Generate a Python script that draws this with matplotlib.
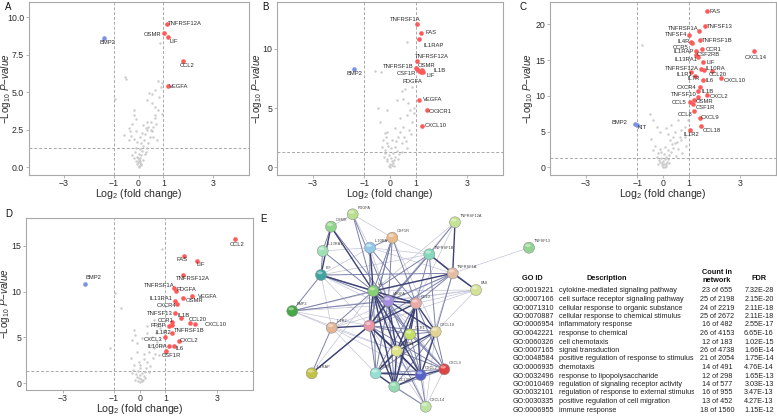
import matplotlib
matplotlib.use("Agg")
import matplotlib.pyplot as plt
from matplotlib.patches import Circle, Ellipse
from matplotlib.transforms import Bbox, TransformedBbox

plt.rcParams['font.family'] = ['Liberation Sans', 'DejaVu Sans']
plt.rcParams['mathtext.fontset'] = 'custom'
plt.rcParams['mathtext.rm'] = 'Liberation Sans'
plt.rcParams['mathtext.it'] = 'Liberation Sans:italic'
plt.rcParams['mathtext.bf'] = 'Liberation Sans:bold'

# ---------------- Panel A data ----------------
a_up_genes = ['TNFRSF12A', 'OSMR', 'LIF', 'CCL2', 'VEGFA']
a_up_x = [1.14, 1.04, 1.20, 1.80, 1.20]
a_up_y = [9.56, 8.93, 8.71, 7.09, 5.42]
a_down_genes = ['BMP2']
a_down_x = [-1.39]
a_down_y = [8.60]
a_gray_x = [0.00, -0.05, 0.05, 0.10, -0.10, 0.00, 0.08, -0.08, 0.12, 0.02, -0.15, 0.15, 0.20, -0.20, 0.25,
            0.05, -0.12, 0.18, 0.30, -0.25, 0.35, 0.10, -0.05, 0.22, -0.18, 0.40, 0.05, -0.30, 0.28, 0.45,
            0.15, -0.10, 0.55, 0.35, -0.40, 0.60, 0.20, -0.25, 0.50, 0.70, -0.57, 0.29, 0.38, 0.49, 0.59,
            0.75, 0.66, 0.36, -0.17, -0.20, -0.10, -0.34, -0.39, 0.66, 0.95, 0.79, 0.68, 0.55, 0.82, 0.68,
            0.92, 0.95, 0.78, 0.55, 0.36, -0.53, -0.50, -0.93, 0.86, 0.42, 0.03, -0.02, 0.07, 0.12, -0.03]
a_gray_y = [0.10, 0.20, 0.30, 0.15, 0.40, 0.50, 0.60, 0.70, 0.80, 0.90, 1.00, 1.10, 0.50, 0.60, 0.90,
            1.20, 1.30, 1.40, 1.00, 0.80, 1.30, 1.60, 1.70, 1.80, 1.90, 1.60, 2.00, 2.10, 2.20, 2.00,
            2.30, 2.40, 2.40, 2.50, 2.60, 2.70, 2.80, 2.90, 3.00, 2.90, 2.16, 2.60, 2.70, 2.50, 2.00,
            1.82, 3.27, 3.04, 3.80, 3.50, 3.20, 2.40, 1.80, 3.50, 3.55, 3.80, 4.04, 4.27, 4.70, 5.15,
            5.33, 5.60, 5.75, 4.90, 4.50, 6.00, 5.87, 4.53, 8.27, 4.93, 0.05, 0.35, 0.45, 0.25, 0.65]

# ---------------- Panel B data ----------------
b_up_genes = ['TNFRSF1A', 'FAS', 'IL1RAP', 'TNFRSF12A', 'TNFRSF1B', 'OSMR', 'CSF1R', 'IL1B', 'LIF',
              'PDGFA', 'VEGFA', 'CX3CR1', 'CXCL10']
b_up_x = [1.05, 1.20, 1.15, 1.05, 1.02, 1.07, 1.12, 1.25, 1.22, 1.27, 1.15, 1.46, 1.25]
b_up_y = [12.11, 11.30, 10.82, 8.99, 8.42, 8.28, 8.17, 8.20, 8.06, 8.08, 5.72, 4.87, 3.52]
b_down_genes = ['BMP2']
b_down_x = [-1.42]
b_down_y = [8.34]
b_gray_x = [0.65, -0.59, -0.37, 0.46, 0.59, 0.86, 0.26, -0.46, -0.13, 0.72, 0.78, 0.65, 0.92, 0.39, 0.85,
            0.52, 0.76, -0.39, -0.20, -0.26, -0.13, 0.07, 0.20, 0.33, 0.46, 0.65, -0.15, -0.10, -0.18, 0.10,
            -0.05, 0.05, 0.15, -0.10, 0.00, 0.08, -0.03, 0.12, 0.20, -0.20, 0.28, 0.35, 0.02, -0.08, 0.25,
            0.55, 0.40, 0.62, 0.80, 0.15, -0.12, 0.00, 0.06, 0.30, -0.25, 0.48, -0.30, 0.95, 0.50, 0.18]
b_gray_y = [10.60, 8.17, 8.08, 6.48, 6.60, 6.76, 5.69, 5.00, 4.85, 5.40, 4.85, 4.42, 4.56, 4.14, 3.86,
            3.44, 3.15, 3.86, 2.87, 2.30, 2.03, 2.30, 1.75, 2.59, 2.03, 1.60, 2.60, 3.00, 1.50, 1.20,
            1.00, 0.80, 0.60, 0.50, 0.30, 0.20, 0.10, 0.40, 0.90, 1.20, 1.40, 1.10, 1.60, 1.80, 2.20,
            2.60, 3.00, 2.20, 2.80, 0.15, 0.70, 0.05, 0.55, 0.70, 0.90, 1.30, 1.70, 5.00, 5.80, 3.30]

# ---------------- Panel C data ----------------
c_up_genes = ['FAS', 'TNFSF13', 'TNFRSF1A', 'TNFSF4', 'IL4R', 'CCR5', 'TNFRSF1B', 'CCR1', 'IL1RAP',
              'CSF2RB', 'IL13RA1', 'CXCL14', 'LIF', 'TNFRSF12A', 'IL10RA', 'CCL20', 'IL1R1', 'IL7R',
              'IL6', 'CXCL10', 'CXCR4', 'IL1B', 'TNFSF10', 'CXCL2', 'CCL5', 'OSMR', 'CSF1R', 'CCL8',
              'CXCL9', 'CCL18', 'IL1R2']
c_up_x = [1.72, 1.63, 1.41, 1.02, 1.11, 1.13, 1.43, 1.54, 1.30, 1.28, 1.38, 3.56, 1.56, 1.47, 1.60,
          1.92, 1.11, 1.24, 1.56, 2.28, 1.43, 1.37, 1.37, 1.73, 1.07, 1.20, 1.17, 1.21, 1.43, 1.50, 1.07]
c_up_y = [21.82, 19.72, 19.07, 18.55, 17.52, 17.34, 17.76, 16.50, 16.31, 15.75, 15.37, 16.26, 14.67,
          13.74, 13.64, 13.46, 13.27, 12.80, 12.20, 12.48, 11.17, 10.75, 9.91, 10.14, 9.21, 9.44, 8.88,
          7.90, 6.96, 5.84, 5.23]
c_down_genes = ['BMP2', 'KIT']
c_down_x = [-1.11, -1.00]
c_down_y = [6.07, 5.93]
c_gray_x = [-0.82, -0.52, -0.39, -0.22, -0.13, 0.13, 0.33, 0.46, 0.59, 0.85, 0.65, 0.46, 0.26, 0.07, 0.39,
            -0.07, -0.20, 0.13, 0.72, 0.87, 0.98, 0.00, -0.05, 0.05, 0.10, -0.10, 0.00, 0.08, -0.08, 0.15,
            0.20, -0.15, 0.25, 0.30, -0.25, 0.18, -0.12, 0.02, 0.35, 0.55, -0.30, 0.60, 0.12, -0.03, 0.06,
            0.22, -0.18, 0.75, 0.50, -0.40, 0.90, 0.40, 0.70, -0.45, 0.20]
c_gray_y = [17.06, 7.50, 6.60, 5.70, 5.00, 5.56, 5.90, 5.00, 6.60, 5.70, 4.30, 3.36, 3.83, 2.90, 2.66,
            2.20, 1.96, 1.50, 3.80, 4.30, 6.60, 0.10, 0.30, 0.50, 0.20, 0.70, 0.90, 1.10, 1.30, 0.80,
            1.20, 1.00, 1.70, 2.10, 1.50, 2.40, 2.60, 1.80, 3.20, 3.50, 3.00, 2.50, 0.40, 0.60, 0.00,
            0.60, 0.40, 2.00, 1.60, 2.40, 3.00, 4.20, 5.20, 4.00, 4.60]

# ---------------- Panel D data ----------------
d_up_genes = ['CCL2', 'FAS', 'LIF', 'TNFRSF12A', 'TNFRSF1A', 'PDGFA', 'VEGFA', 'OSMR', 'IL13RA1',
              'CXCR4', 'TNFSF13', 'IL1B', 'CCL20', 'CXCL10', 'CCR1', 'PPBP', 'TNFRSF1B', 'IL1R2',
              'CXCL3', 'CXCL2', 'IL10RA', 'IL6', 'CSF1R']
d_up_x = [3.71, 1.72, 2.24, 1.69, 1.35, 1.43, 2.02, 1.69, 1.37, 1.46, 1.37, 1.59, 1.94, 2.14, 1.26,
          1.13, 1.24, 1.24, 1.00, 1.52, 1.16, 1.33, 1.03]
d_up_y = [15.71, 13.93, 13.35, 11.82, 10.36, 10.07, 9.49, 9.35, 8.98, 8.65, 7.67, 7.09, 6.55, 6.44,
          6.65, 6.29, 6.36, 5.45, 5.02, 4.65, 4.07, 4.11, 3.56]
d_down_genes = ['BMP2']
d_down_x = [-2.12]
d_down_y = [10.84]
d_gray_x = [0.85, -0.95, -0.73, 0.55, 0.68, 0.81, 0.94, -0.23, -0.17, -0.30, -0.10, 0.09, 0.29, 0.48, 0.68,
            0.87, 0.55, 0.35, 0.74, 0.16, -0.04, -0.23, 0.03, 0.29, 0.94, -1.15, 0.00, -0.05, 0.05, 0.10,
            -0.10, 0.00, 0.08, -0.08, 0.15, 0.20, -0.15, 0.25, -0.25, 0.12, -0.03, 0.22, -0.18, 0.40, 0.50,
            -0.35, 0.60, 0.18, -0.12, 0.45, 0.65, 0.30, 0.02, 0.35, -0.30]
d_gray_y = [14.65, 9.80, 8.25, 6.90, 6.20, 6.00, 5.60, 5.80, 5.27, 4.73, 4.36, 4.90, 5.45, 5.10, 4.55,
            4.20, 3.80, 3.45, 3.10, 2.70, 2.36, 2.00, 1.64, 2.36, 3.27, 3.80, 0.10, 0.30, 0.50, 0.20,
            0.70, 0.90, 1.10, 1.30, 0.80, 1.20, 1.00, 1.70, 1.50, 0.40, 0.60, 0.60, 0.40, 1.90, 2.80,
            2.80, 3.20, 3.20, 3.40, 4.20, 5.50, 6.20, 2.00, 1.20, 1.10]

# label offsets (pixels, text centre relative to point)
a_offsets = {'TNFRSF12A': (18, 0), 'OSMR': (-12, -1), 'LIF': (5, -5), 'CCL2': (4, -5),
             'VEGFA': (10, 0), 'BMP2': (4, -4)}
b_offsets = {'TNFRSF1A': (-12, 4), 'FAS': (10, 1), 'IL1RAP': (14, -6), 'TNFRSF12A': (15, 4),
             'TNFRSF1B': (-18, 1), 'OSMR': (9, 4), 'IL1B': (18, 0), 'LIF': (9, -4), 'CSF1R': (-12, -3),
             'PDGFA': (-10, -10), 'BMP2': (1, -5), 'VEGFA': (13, 0), 'CX3CR1': (13, -2),
             'CXCL10': (14, 0)}
c_offsets = {'FAS': (8, 0), 'TNFSF13': (15, 0), 'TNFRSF1A': (-16, 3), 'TNFSF4': (-13, 0),
             'IL4R': (-8, 1), 'CCR5': (-11, -4), 'TNFRSF1B': (18, 0), 'CCR1': (11, 0),
             'IL1RAP': (-13, -1), 'CSF2RB': (13, 0), 'IL13RA1': (-12, -2), 'CXCL14': (1, -6),
             'LIF': (8, 0), 'TNFRSF12A': (-19, 1), 'IL10RA': (11, 1), 'CCL20': (6, -3),
             'IL1R1': (-7, -2), 'IL7R': (-1, -3), 'IL6': (7, 0), 'CXCL10': (13, -2),
             'CXCR4': (-13, 0), 'IL1B': (9, -1), 'TNFSF10': (-14, 2), 'CXCL2': (12, -2),
             'CCL5': (-11, -1), 'OSMR': (11, -2), 'CSF1R': (12, -4), 'CCL8': (-9, -4),
             'CXCL9': (10, 0), 'CCL18': (10, -5), 'IL1R2': (1, -5), 'BMP2': (-15, 1), 'KIT': (5, -3)}
d_offsets = {'CCL2': (2, -5), 'FAS': (-2, -4), 'LIF': (4, -4), 'TNFRSF12A': (10, -4),
             'BMP2': (8, 6), 'TNFRSF1A': (-15, 3), 'PDGFA': (10, 2), 'VEGFA': (16, 0),
             'OSMR': (11, -3), 'IL13RA1': (-14, 3), 'CXCR4': (-11, -1), 'TNFSF13': (-15, 0),
             'IL1B': (3, 3), 'CCL20': (8, 4), 'CXCL10': (21, 0), 'CCR1': (-6, 2), 'PPBP': (-10, 0),
             'TNFRSF1B': (18, -5), 'IL1R2': (-8, 1), 'CXCL3': (-12, -2), 'CXCL2': (10, 0),
             'IL10RA': (-12, 0), 'IL6': (6, -3), 'CSF1R': (5, -5)}

# ---------------- Network (panel E) ----------------
net_nodes = ['PDGFA', 'OSMR', 'IL13RA1', 'LIF', 'IL10RA', 'CSF1R', 'TNFRSF12A', 'TNFRSF1B', 'TNFRSF1A',
             'FAS', 'TNFSF13', 'IL6', 'VEGFA', 'CCL2', 'BMP2', 'IL1R2', 'IL1B', 'CCR1', 'CXCL10', 'CXCR4',
             'CXCL3', 'CXCL2', 'IL1RAP', 'PPBP', 'CCL20', 'CXCL14']
net_x = [352.7, 331.0, 322.7, 321.0, 370.0, 392.3, 455.0, 429.3, 452.7, 476.0, 529.0, 373.3, 388.3,
         416.0, 292.3, 331.7, 369.3, 410.0, 435.7, 396.7, 444.3, 420.7, 311.7, 375.7, 394.3, 425.7]
net_y = [214.3, 226.7, 251.0, 275.0, 247.7, 237.7, 222.3, 254.3, 273.3, 290.0, 247.7, 291.0, 301.0,
         303.3, 311.0, 327.7, 325.7, 334.3, 331.7, 351.0, 369.3, 375.0, 373.3, 373.3, 386.7, 406.7]
net_colors = ['#b9de8f', '#91d58c', '#9fe0b4', '#3fa3a0', '#92c9e8', '#e9bb8c', '#c3e293', '#86d8bb',
              '#e3bca4', '#d3e294', '#93d394', '#86d174', '#a48fe2', '#eaaba4', '#45a845', '#e2b595',
              '#ea94a6', '#c3e063', '#e2d394', '#e0e287', '#e04545', '#5663c9', '#c2c245', '#94e1d3',
              '#94d9b3', '#bbe2a3']
net_edges = [
    ('IL6', 'OSMR', 3), ('IL6', 'IL13RA1', 2), ('IL6', 'LIF', 3), ('IL6', 'IL10RA', 3), ('IL6', 'CSF1R', 2),
    ('IL6', 'PDGFA', 2), ('IL6', 'TNFRSF1B', 2), ('IL6', 'TNFRSF1A', 3), ('IL6', 'FAS', 1),
    ('IL6', 'VEGFA', 3), ('IL6', 'CCL2', 3), ('IL6', 'BMP2', 2), ('IL6', 'IL1R2', 2), ('IL6', 'IL1B', 3),
    ('IL6', 'CCR1', 2), ('IL6', 'CXCL10', 3), ('IL6', 'CXCR4', 3), ('IL6', 'CXCL3', 2), ('IL6', 'CXCL2', 3),
    ('IL6', 'IL1RAP', 1), ('IL6', 'PPBP', 2), ('IL6', 'CCL20', 3), ('IL6', 'CXCL14', 1),
    ('IL6', 'TNFRSF12A', 1),
    ('VEGFA', 'PDGFA', 2), ('VEGFA', 'CSF1R', 2), ('VEGFA', 'IL10RA', 1), ('VEGFA', 'TNFRSF1B', 2),
    ('VEGFA', 'TNFRSF1A', 2), ('VEGFA', 'FAS', 1), ('VEGFA', 'CCL2', 3), ('VEGFA', 'IL1B', 3),
    ('VEGFA', 'CXCR4', 3), ('VEGFA', 'CXCL2', 2), ('VEGFA', 'CCL20', 2), ('VEGFA', 'BMP2', 2),
    ('VEGFA', 'LIF', 2), ('VEGFA', 'CXCL10', 2), ('VEGFA', 'CXCL3', 1), ('VEGFA', 'PPBP', 2),
    ('VEGFA', 'OSMR', 2), ('VEGFA', 'CCR1', 2), ('VEGFA', 'TNFRSF12A', 1),
    ('CCL2', 'CCR1', 3), ('CCL2', 'CXCL10', 3), ('CCL2', 'CXCR4', 3), ('CCL2', 'CXCL3', 2),
    ('CCL2', 'CXCL2', 3), ('CCL2', 'PPBP', 2), ('CCL2', 'CCL20', 3), ('CCL2', 'CXCL14', 1),
    ('CCL2', 'IL1B', 3), ('CCL2', 'TNFRSF1A', 2), ('CCL2', 'FAS', 1), ('CCL2', 'TNFRSF1B', 2),
    ('CCL2', 'LIF', 2), ('CCL2', 'IL10RA', 2), ('CCL2', 'CSF1R', 2), ('CCL2', 'BMP2', 1),
    ('CCL2', 'IL1R2', 1),
    ('IL1B', 'IL1R2', 3), ('IL1B', 'IL1RAP', 3), ('IL1B', 'CCR1', 2), ('IL1B', 'CXCL10', 2),
    ('IL1B', 'CXCR4', 3), ('IL1B', 'CXCL3', 2), ('IL1B', 'CXCL2', 3), ('IL1B', 'PPBP', 2),
    ('IL1B', 'CCL20', 3), ('IL1B', 'TNFRSF1A', 2), ('IL1B', 'TNFRSF1B', 2), ('IL1B', 'FAS', 1),
    ('IL1B', 'IL10RA', 2), ('IL1B', 'CSF1R', 2), ('IL1B', 'LIF', 1), ('IL1B', 'BMP2', 1),
    ('IL1B', 'CXCL14', 1),
    ('CCR1', 'CXCL10', 2), ('CCR1', 'CXCR4', 3), ('CCR1', 'CXCL3', 2), ('CCR1', 'CXCL2', 2),
    ('CCR1', 'PPBP', 2), ('CCR1', 'CCL20', 2), ('CXCL10', 'CXCR4', 3), ('CXCL10', 'CXCL3', 2),
    ('CXCL10', 'CXCL2', 3), ('CXCL10', 'CCL20', 2), ('CXCL10', 'PPBP', 2), ('CXCL10', 'CXCL14', 1),
    ('CXCR4', 'CXCL2', 3), ('CXCR4', 'CXCL3', 2), ('CXCR4', 'PPBP', 3), ('CXCR4', 'CCL20', 3),
    ('CXCR4', 'CXCL14', 2), ('CXCL2', 'CXCL3', 3), ('CXCL2', 'PPBP', 3), ('CXCL2', 'CCL20', 3),
    ('CXCL2', 'CXCL14', 2), ('CXCL3', 'PPBP', 2), ('CXCL3', 'CCL20', 2), ('CXCL3', 'CXCL14', 1),
    ('PPBP', 'CCL20', 3), ('CCL20', 'CXCL14', 2), ('PPBP', 'CXCL14', 1),
    ('TNFRSF12A', 'TNFRSF1B', 2), ('TNFRSF12A', 'TNFRSF1A', 3), ('TNFRSF1B', 'TNFRSF1A', 3),
    ('TNFRSF1A', 'FAS', 3), ('TNFRSF1B', 'FAS', 2), ('TNFRSF1A', 'TNFSF13', 1), ('TNFRSF12A', 'CCL2', 1),
    ('TNFRSF1B', 'CXCL10', 2), ('TNFRSF1A', 'CXCL10', 2), ('TNFRSF1A', 'CXCL2', 1), ('FAS', 'CXCL10', 1),
    ('FAS', 'BMP2', 1), ('TNFRSF1B', 'CSF1R', 1), ('TNFRSF1B', 'IL10RA', 1), ('TNFRSF1A', 'LIF', 2),
    ('TNFRSF1B', 'LIF', 1), ('TNFRSF1A', 'IL1R2', 1),
    ('OSMR', 'LIF', 3), ('OSMR', 'IL13RA1', 2), ('OSMR', 'PDGFA', 1), ('PDGFA', 'CSF1R', 1),
    ('PDGFA', 'IL10RA', 1), ('IL13RA1', 'LIF', 2), ('IL13RA1', 'IL10RA', 1), ('LIF', 'IL10RA', 1),
    ('LIF', 'BMP2', 2), ('LIF', 'IL1R2', 1), ('IL1R2', 'IL1RAP', 2), ('IL1R2', 'BMP2', 1),
    ('IL1R2', 'CXCR4', 1), ('IL1R2', 'CXCL2', 1), ('IL1RAP', 'IL1B', 2), ('IL10RA', 'CSF1R', 2),
    ('CSF1R', 'CXCL10', 1), ('CSF1R', 'IL1B', 2), ('IL10RA', 'TNFRSF1A', 1), ('BMP2', 'TNFRSF1A', 1),
    ('BMP2', 'CXCR4', 1), ('LIF', 'CXCL10', 1), ('IL1R2', 'PPBP', 1),
]

# ---------------- GO table ----------------
go_ids = ['GO:0019221', 'GO:0007166', 'GO:0071310', 'GO:0070887', 'GO:0006954', 'GO:0042221',
          'GO:0060326', 'GO:0007165', 'GO:0048584', 'GO:0006935', 'GO:0032496', 'GO:0010469',
          'GO:0032101', 'GO:0030335', 'GO:0006955']
go_desc = ['cytokine-mediated signaling pathway', 'cell surface receptor signaling pathway',
           'cellular response to organic substance', 'cellular response to chemical stimulus',
           'inflammatory response', 'response to chemical', 'cell chemotaxis', 'signal transduction',
           'positive regulation of response to stimulus', 'chemotaxis',
           'response to lipopolysaccharide', 'regulation of signaling receptor activity',
           'regulation of response to external stimulus', 'positive regulation of cell migration',
           'immune response']
go_count = ['23 of 655', '25 of 2198', '24 of 2219', '25 of 2672', '16 of 482', '26 of 4153',
            '12 of 183', '26 of 4738', '21 of 2054', '14 of 491', '12 of 298', '14 of 577',
            '16 of 955', '13 of 452', '18 of 1560']
go_fdr = ['7.32E-28', '2.15E-20', '2.11E-18', '2.11E-18', '2.55E-17', '6.65E-16', '1.02E-15',
          '1.66E-14', '1.75E-14', '4.76E-14', '1.65E-13', '3.03E-13', '3.47E-13', '4.27E-13',
          '1.15E-12']

# ======================================================
W, H = 777, 416
fig = plt.figure(figsize=(W / 100, H / 100), dpi=100)

RED = '#ff5a5a'
BLUE = '#7b93e0'
GRAY = '#c4c4c4'
FRAME = '#a8a8a8'
TXT = '#2b2b2b'


def px_axes(x0, y0, x1, y1):
    return fig.add_axes([x0 / W, 1 - y1 / H, (x1 - x0) / W, (y1 - y0) / H])


def volcano(ax, gx, gy, ug, ux, uy, dg, dx, dy, offs, ylim, yticks, yfmt, ylab_px, width_px, height_px):
    ax.scatter(gx, gy, s=3.2, color=GRAY, alpha=0.85, linewidths=0, zorder=2)
    ax.scatter(ux, uy, s=11, color=RED, linewidths=0, zorder=3)
    ax.scatter(dx, dy, s=11, color=BLUE, linewidths=0, zorder=3)
    for genes, xs, ys in ((ug, ux, uy), (dg, dx, dy)):
        for g, x, y in zip(genes, xs, ys):
            ox, oy = offs.get(g, (8, 0))
            ax.annotate(g, (x, y), xytext=(ox, oy), textcoords='offset pixels',
                        ha='center', va='center', fontsize=4.2, color=TXT, zorder=4)
    for v in (-1, 1):
        ax.axvline(v, color=FRAME, lw=0.7, ls=(0, (3, 2)), zorder=1)
    ax.axhline(1.30103, color=FRAME, lw=0.7, ls=(0, (3, 2)), zorder=1)
    ax.set_xlim(-4.42, 4.42)
    ax.set_ylim(*ylim)
    ax.set_xticks([-3, -1, 0, 1, 3])
    ax.set_yticks(yticks)
    ax.set_yticklabels([yfmt.format(t) for t in yticks])
    for sp in ax.spines.values():
        sp.set_color(FRAME)
        sp.set_linewidth(0.8)
    ax.tick_params(length=2, width=0.6, color=FRAME, labelsize=6.3, labelcolor=TXT, pad=1.2)
    ax.set_xlabel('Log$_2$ (fold change)', fontsize=7.6, color=TXT)
    ax.set_ylabel(r'$-$Log$_{10}$ $\mathit{P}$$\mathit{-value}$', fontsize=7.1, color=TXT)
    ax.xaxis.set_label_coords(0.5, -12.5 / height_px)
    ax.yaxis.set_label_coords(-ylab_px / width_px, 0.5)


axA = px_axes(28.5, 1.5, 248.5, 175)
volcano(axA, a_gray_x, a_gray_y, a_up_genes, a_up_x, a_up_y, a_down_genes, a_down_x, a_down_y,
        a_offsets, (-0.5, 11.05), [0, 2.5, 5, 7.5, 10], '{:.1f}', 15.5, 220, 173.5)
axB = px_axes(276.7, 1.5, 503.3, 175)
volcano(axB, b_gray_x, b_gray_y, b_up_genes, b_up_x, b_up_y, b_down_genes, b_down_x, b_down_y,
        b_offsets, (-0.65, 14.0), [0, 5, 10], '{:d}', 12.5, 226.6, 173.5)
axC = px_axes(549.7, 1.5, 776.3, 175)
volcano(axC, c_gray_x, c_gray_y, c_up_genes, c_up_x, c_up_y, c_down_genes, c_down_x, c_down_y,
        c_offsets, (-1.07, 23.2), [0, 5, 10, 15, 20], '{:d}', 14.5, 226.6, 173.5)
axD = px_axes(26, 217.7, 253.3, 390)
volcano(axD, d_gray_x, d_gray_y, d_up_genes, d_up_x, d_up_y, d_down_genes, d_down_x, d_down_y,
        d_offsets, (-0.73, 18.07), [0, 5, 10, 15], '{:d}', 13.5, 227.3, 172.3)

# ---- network ----
axN = px_axes(280, 205, 540, 416)
axN.set_xlim(280, 540)
axN.set_ylim(416, 205)
axN.set_axis_off()
pos = {n: (x, y) for n, x, y in zip(net_nodes, net_x, net_y)}
edge_style = {1: ('#bcbfd4', 0.45), 2: ('#7c81a8', 0.7), 3: ('#3d4274', 1.0)}
for w in (1, 2, 3):
    for a, b, ww in net_edges:
        if ww != w:
            continue
        c, lw = edge_style[w]
        axN.plot([pos[a][0], pos[b][0]], [pos[a][1], pos[b][1]], color=c, lw=lw,
                 solid_capstyle='round', zorder=1)
for n, x, y, col in zip(net_nodes, net_x, net_y, net_colors):
    axN.add_patch(Circle((x, y), 5.5, facecolor=col, edgecolor='#8a8a8a', lw=0.35, zorder=3))
    axN.add_patch(Ellipse((x - 1.1, y - 2.2), 5.5, 3.0, facecolor='white', alpha=0.45,
                          edgecolor='none', zorder=4))
    axN.text(x + 4.5, y - 4.5, n, fontsize=2.8, color='#444444', ha='left', va='bottom', zorder=5)

# ---- table ----
axT = fig.add_axes([0, 0, 1, 1])
axT.set_xlim(0, W)
axT.set_ylim(H, 0)
axT.set_axis_off()
hfs = 5.3
axT.text(532, 279, 'GO ID', fontsize=hfs, fontweight='bold', ha='center', va='center', color='#111111')
axT.text(607, 279, 'Description', fontsize=hfs, fontweight='bold', ha='center', va='center', color='#111111')
axT.text(717, 276.5, 'Count in\nnetwork', fontsize=hfs, fontweight='bold', ha='center', va='center',
         color='#111111', linespacing=1.25)
axT.text(759, 279, 'FDR', fontsize=hfs, fontweight='bold', ha='center', va='center', color='#111111')
clip = TransformedBbox(Bbox([[555, 260], [694, 416]]), axT.transData)
rfs = 5.2
for i, (gid, d, c, f) in enumerate(zip(go_ids, go_desc, go_count, go_fdr)):
    y = 291 + i * 8.5
    axT.text(513, y, gid, fontsize=rfs, ha='left', va='center', color='#222222')
    t = axT.text(559, y, d, fontsize=rfs, ha='left', va='center', color='#222222')
    t.set_clip_box(clip)
    t.set_clip_on(True)
    axT.text(717, y, c, fontsize=rfs, ha='center', va='center', color='#222222')
    axT.text(759, y, f, fontsize=rfs, ha='center', va='center', color='#222222')

# ---- panel letters ----
for letter, x, y in (('A', 5, 1.5), ('B', 262, 1.5), ('C', 520, 1.5), ('D', 5, 209), ('E', 260, 214)):
    axT.text(x, y, letter, fontsize=7, ha='left', va='top', color='#111111')

fig.savefig('out.png', dpi=100)
